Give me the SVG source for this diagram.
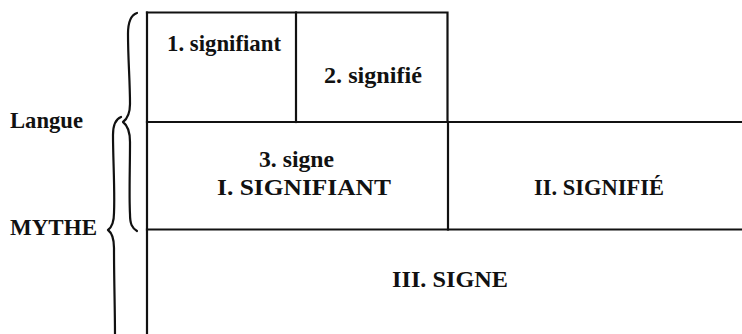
<svg xmlns="http://www.w3.org/2000/svg" width="742" height="334" viewBox="0 0 742 334">
<style>
.t{font-family:"Liberation Serif","Times New Roman",serif;font-size:23px;font-weight:bold;fill:#111}
.ln{stroke:#111;stroke-width:2.2;fill:none;stroke-linecap:square}
.br{stroke:#111;stroke-width:2.2;fill:none;stroke-linecap:round;stroke-linejoin:round}
</style>
<rect width="742" height="334" fill="#fff"/>
<g id="connectors">
<path class="ln" d="M147,12.5 H447.5 V122"/>
<path class="ln" d="M147,12.5 V334"/>
<path class="ln" d="M296,12.5 V122"/>
<path class="ln" d="M147,122 H742"/>
<path class="ln" d="M448,122 V229.5"/>
<path class="ln" d="M147,229.5 H742"/>
</g>
<g id="brace-langue">
<path class="br" d="M137,13 C131,15 128,22 128,34 C128,60 130,80 130,104 C130,114 127,119 123,122 C127,125 130,131 130,142 C130,170 129,195 130,214 C130,224 132,228 137,231"/>
<text class="t" x="10" y="128" textLength="73" lengthAdjust="spacingAndGlyphs">Langue</text>
</g>
<g id="brace-mythe">
<path class="br" d="M121,117 C116,119 113,125 113,135 C113,160 115,190 114,213 C114,223 112,227 108,230 C112,233 114,238 114,248 C114,280 115,310 115,336"/>
<text class="t" x="10" y="235" textLength="87" lengthAdjust="spacingAndGlyphs">MYTHE</text>
</g>
<g id="node-1">
<text class="t" x="167" y="51" textLength="114" lengthAdjust="spacingAndGlyphs">1. signifiant</text>
</g>
<g id="node-2">
<text class="t" x="324" y="83" textLength="98" lengthAdjust="spacingAndGlyphs">2. signifié</text>
</g>
<g id="node-3">
<text class="t" x="259" y="167" textLength="75" lengthAdjust="spacingAndGlyphs">3. signe</text>
<text class="t" x="217" y="195" textLength="174" lengthAdjust="spacingAndGlyphs">I. SIGNIFIANT</text>
</g>
<g id="node-II">
<text class="t" x="534" y="195" textLength="130" lengthAdjust="spacingAndGlyphs">II. SIGNIFIÉ</text>
</g>
<g id="node-III">
<text class="t" x="392" y="287" textLength="116" lengthAdjust="spacingAndGlyphs">III. SIGNE</text>
</g>
</svg>
